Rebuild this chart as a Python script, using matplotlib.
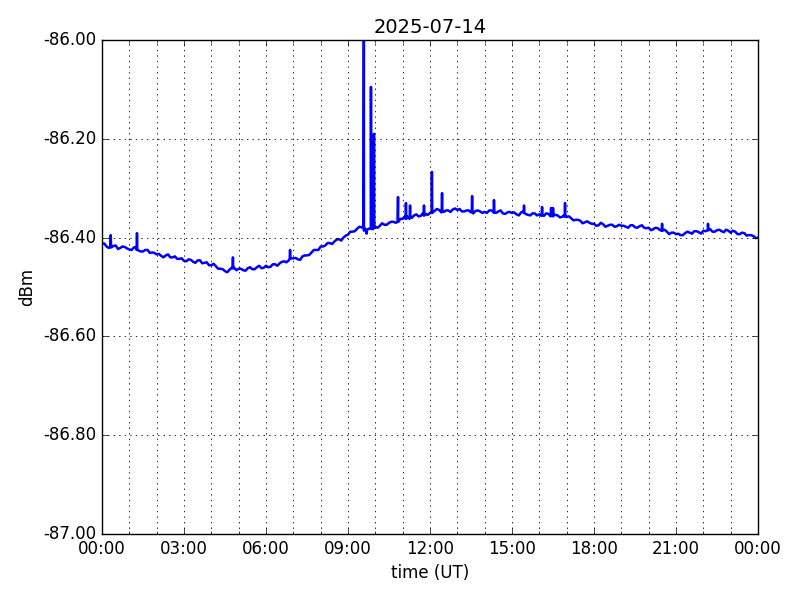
import datetime as dt
import numpy as np
import matplotlib
matplotlib.use("Agg")
import matplotlib.pyplot as plt
import matplotlib.dates as mdates

plt.style.use("classic")

title = "2025-07-14"
xlabel = "time (UT)"
ylabel = "dBm"
ylim = (-87.0, -86.0)
yticks = [-87.0, -86.8, -86.6, -86.4, -86.2, -86.0]

# readings on the 10-minute marks (hours 0..24)
baseline = [
    -86.412, -86.418, -86.420, -86.416, -86.421, -86.419,
    -86.424, -86.420, -86.426, -86.428, -86.425, -86.430,
    -86.434, -86.437, -86.436, -86.440, -86.438, -86.443,
    -86.447, -86.444, -86.449, -86.446, -86.452, -86.450,
    -86.456, -86.458, -86.463, -86.468, -86.465, -86.461,
    -86.463, -86.466, -86.462, -86.464, -86.460, -86.462,
    -86.457, -86.459, -86.454, -86.452, -86.448, -86.446,
    -86.442, -86.444, -86.438, -86.436, -86.430, -86.425,
    -86.418, -86.416, -86.411, -86.408, -86.403, -86.400,
    -86.394, -86.388, -86.382, -86.379, -86.385, -86.382,
    -86.378, -86.376, -86.374, -86.370, -86.368, -86.366,
    -86.362, -86.357, -86.360, -86.353, -86.356, -86.352,
    -86.350, -86.346, -86.344, -86.348, -86.345, -86.343,
    -86.344, -86.347, -86.345, -86.349, -86.346, -86.347,
    -86.348, -86.345, -86.350, -86.347, -86.351, -86.349,
    -86.350, -86.353, -86.349, -86.352, -86.355, -86.351,
    -86.353, -86.356, -86.352, -86.357, -86.355, -86.358,
    -86.358, -86.361, -86.364, -86.366, -86.369, -86.370,
    -86.372, -86.375, -86.373, -86.376, -86.374, -86.377,
    -86.376, -86.378, -86.375, -86.379, -86.377, -86.380,
    -86.380, -86.383, -86.381, -86.386, -86.388, -86.390,
    -86.393, -86.395, -86.391, -86.390, -86.387, -86.389,
    -86.386, -86.384, -86.388, -86.385, -86.387, -86.384,
    -86.390, -86.388, -86.393, -86.391, -86.395, -86.397,
    -86.400,
]

# readings halfway between the 10-minute marks (hh:05, hh:15, ...)
midpoints = [
    -86.412, -86.421, -86.417, -86.423, -86.418, -86.422,
    -86.425, -86.419, -86.428, -86.425, -86.431, -86.431,
    -86.433, -86.440, -86.434, -86.440, -86.443, -86.442,
    -86.448, -86.445, -86.451, -86.446, -86.451, -86.456,
    -86.453, -86.463, -86.464, -86.470, -86.461, -86.466,
    -86.463, -86.467, -86.460, -86.464, -86.457, -86.461,
    -86.460, -86.454, -86.457, -86.449, -86.450, -86.442,
    -86.441, -86.445, -86.436, -86.435, -86.425, -86.425,
    -86.418, -86.411, -86.413, -86.404, -86.406, -86.396,
    -86.388, -86.387, -86.378, -86.386, -86.382, -86.383,
    -86.380, -86.371, -86.374, -86.368, -86.370, -86.362,
    -86.357, -86.362, -86.355, -86.357, -86.350, -86.354,
    -86.350, -86.342, -86.349, -86.345, -86.348, -86.341,
    -86.342, -86.347, -86.345, -86.351, -86.345, -86.350,
    -86.350, -86.345, -86.350, -86.345, -86.352, -86.348,
    -86.349, -86.355, -86.347, -86.354, -86.351, -86.355,
    -86.356, -86.351, -86.357, -86.354, -86.359, -86.354,
    -86.357, -86.365, -86.364, -86.371, -86.367, -86.372,
    -86.376, -86.370, -86.378, -86.374, -86.378, -86.374,
    -86.376, -86.380, -86.375, -86.380, -86.375, -86.381,
    -86.385, -86.380, -86.385, -86.384, -86.393, -86.390,
    -86.392, -86.395, -86.388, -86.392, -86.387, -86.392,
    -86.387, -86.383, -86.388, -86.384, -86.389, -86.386,
    -86.386, -86.393, -86.390, -86.396, -86.395, -86.401,
]

# spikes: time (hours), peak value, local base value
spike_hours = [0.32, 1.28, 4.79, 6.88, 9.58, 9.68, 9.84, 9.90, 9.95,
               10.83, 11.12, 11.27, 11.78, 12.07, 12.44, 13.54, 14.34,
               15.44, 16.10, 16.43, 16.50, 16.94, 20.49, 22.17]
spike_peaks = [-86.395, -86.391, -86.440, -86.425, -85.980, -86.392, -86.095,
               -86.257, -86.190, -86.318, -86.330, -86.335, -86.335, -86.267,
               -86.310, -86.316, -86.324, -86.335, -86.338, -86.340, -86.340,
               -86.330, -86.372, -86.372]
spike_bases = [-86.418, -86.425, -86.462, -86.442, -86.380, -86.385, -86.382,
               -86.380, -86.380, -86.368, -86.362, -86.358, -86.355, -86.350,
               -86.345, -86.347, -86.348, -86.350, -86.353, -86.353, -86.355,
               -86.358, -86.386, -86.385]

start = dt.datetime(2025, 7, 14)
pts = [(i / 6.0, v) for i, v in enumerate(baseline)]
pts += [(i / 6.0 + 1 / 12.0, v) for i, v in enumerate(midpoints)]
for h, p, b in zip(spike_hours, spike_peaks, spike_bases):
    pts += [(h - 0.012, b), (h, p), (h + 0.012, b)]
pts.sort()
times = [start + dt.timedelta(hours=h) for h, _ in pts]
vals = [v for _, v in pts]

fig = plt.figure(figsize=(8, 6), dpi=100, facecolor="white")
ax = fig.add_subplot(111)
fig.subplots_adjust(left=0.1275, right=0.9475, bottom=0.11, top=0.9333)
ax.plot(times, vals, color="b", lw=1.8)
ax.set_xlim(start, start + dt.timedelta(days=1))
ax.set_ylim(*ylim)
ax.set_yticks(yticks)
ax.yaxis.set_major_formatter(matplotlib.ticker.FormatStrFormatter("%.2f"))
ax.xaxis.set_major_locator(mdates.HourLocator(byhour=range(0, 24, 3)))
ax.xaxis.set_minor_locator(mdates.HourLocator())
ax.xaxis.set_major_formatter(mdates.DateFormatter("%H:%M"))
ax.grid(True, which="major", color="k", linestyle=":", lw=0.6)
ax.xaxis.grid(True, which="minor", color="k", linestyle=":", lw=0.6)
ax.set_title(title, fontsize=14)
ax.set_xlabel(xlabel, fontsize=12)
ax.set_ylabel(ylabel, fontsize=12)
ax.tick_params(labelsize=12)
fig.savefig("out.png", dpi=100, facecolor="white")
